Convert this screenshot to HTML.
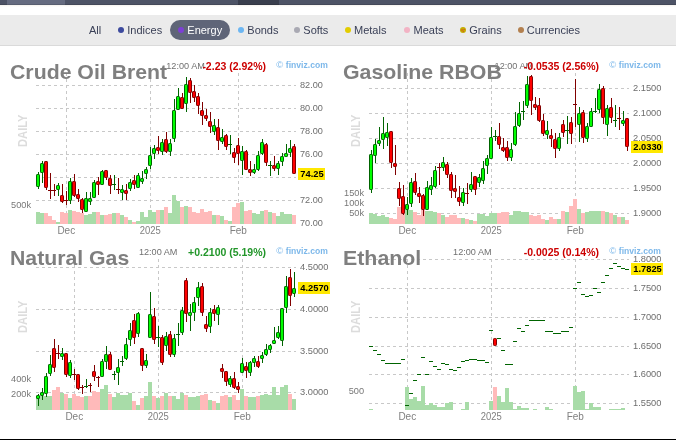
<!DOCTYPE html>
<html><head><meta charset="utf-8"><title>Futures - Energy</title>
<style>
html,body{margin:0;padding:0;background:#fff;}
body{width:676px;height:440px;overflow:hidden;position:relative;font-family:'Liberation Sans',Arial,sans-serif;}
#top{position:absolute;left:0;top:0;width:676px;height:5px;background:#4d5366;}
#top .a{position:absolute;left:7px;top:0;width:58px;height:5px;background:#656b80;}
#top .b{position:absolute;left:238px;top:0;width:41px;height:5px;background:#393e4d;}
#top .s{position:absolute;left:0;top:4px;width:676px;height:1px;background:rgba(0,0,0,0.12);}
#shadow{position:absolute;left:0;top:5px;width:676px;height:2px;background:linear-gradient(#f4f2ee,#fff);}
#tabs{position:absolute;left:0;top:15px;width:676px;height:30px;background:#ebebeb;border-bottom:1px solid #dadada;}
#pill{position:absolute;left:170px;top:5px;width:60px;height:20px;border-radius:10px;background:#5f6578;}
.t{position:absolute;top:8px;font-size:11px;line-height:14px;white-space:nowrap;}
.d{position:absolute;top:12px;width:6px;height:6px;border-radius:50%;}
#bot{position:absolute;left:0;top:439px;width:676px;height:1px;background:#000;}
</style></head><body>
<div id="top"><div class="a"></div><div class="b"></div><div class="s"></div></div>
<div id="shadow"></div>
<div id="tabs"><div id="pill"></div>
<span class="t" style="left:89.0px;color:#3a4057">All</span><span class="t" style="left:127.3px;color:#3a4057">Indices</span><span class="d" style="left:118px;background:#3d4a9e"></span><span class="t" style="left:187.3px;color:#fff">Energy</span><span class="d" style="left:178px;background:#7d3fd6"></span><span class="t" style="left:247.3px;color:#3a4057">Bonds</span><span class="d" style="left:238px;background:#6cb6f2"></span><span class="t" style="left:303.3px;color:#3a4057">Softs</span><span class="d" style="left:294px;background:#a9a9b3"></span><span class="t" style="left:354.0px;color:#3a4057">Metals</span><span class="d" style="left:344.7px;background:#e2cc00"></span><span class="t" style="left:413.5px;color:#3a4057">Meats</span><span class="d" style="left:404.2px;background:#f2b3c4"></span><span class="t" style="left:469.3px;color:#3a4057">Grains</span><span class="d" style="left:460px;background:radial-gradient(circle at 2px 3px,rgba(220,60,40,.7) 0.5px,transparent 1px),radial-gradient(circle at 4.2px 2.4px,rgba(220,60,40,.6) 0.5px,transparent 1px),radial-gradient(circle at 3.4px 4.4px,rgba(220,60,40,.7) 0.5px,transparent 1px),#c4ac00"></span><span class="t" style="left:526.8px;color:#3a4057">Currencies</span><span class="d" style="left:517.5px;background:#b3804f"></span>
</div>
<svg width="676" height="440" style="position:absolute;left:0;top:0" font-family="'Liberation Sans', Arial, sans-serif" shape-rendering="crispEdges">
<line x1="36" y1="85.5" x2="296" y2="85.5" stroke="#c8c8c8" stroke-dasharray="3 3"/>
<line x1="36" y1="108.5" x2="296" y2="108.5" stroke="#c8c8c8" stroke-dasharray="3 3"/>
<line x1="36" y1="131.5" x2="296" y2="131.5" stroke="#c8c8c8" stroke-dasharray="3 3"/>
<line x1="36" y1="154.5" x2="296" y2="154.5" stroke="#c8c8c8" stroke-dasharray="3 3"/>
<line x1="36" y1="177.5" x2="296" y2="177.5" stroke="#c8c8c8" stroke-dasharray="3 3"/>
<line x1="36" y1="200.5" x2="296" y2="200.5" stroke="#c8c8c8" stroke-dasharray="3 3"/>
<line x1="36" y1="223.5" x2="296" y2="223.5" stroke="#c8c8c8" stroke-dasharray="3 3"/>
<line x1="66.5" y1="73" x2="66.5" y2="224" stroke="#c8c8c8" stroke-dasharray="3 3"/>
<line x1="150.5" y1="73" x2="150.5" y2="224" stroke="#c8c8c8" stroke-dasharray="3 3"/>
<line x1="238.5" y1="73" x2="238.5" y2="224" stroke="#c8c8c8" stroke-dasharray="3 3"/>
<rect x="36" y="212" width="4" height="12" fill="#a8dca8"/>
<rect x="40" y="213" width="4" height="11" fill="#a8dca8"/>
<rect x="44" y="213" width="4" height="11" fill="#ffbaba"/>
<rect x="48" y="216" width="4" height="8" fill="#ffbaba"/>
<rect x="52" y="220" width="4" height="4" fill="#ffbaba"/>
<rect x="56" y="222" width="4" height="2" fill="#a8dca8"/>
<rect x="60" y="212" width="4" height="12" fill="#ffbaba"/>
<rect x="64" y="213" width="4" height="11" fill="#ffbaba"/>
<rect x="68" y="210" width="4" height="14" fill="#a8dca8"/>
<rect x="72" y="211" width="4" height="13" fill="#ffbaba"/>
<rect x="76" y="212" width="4" height="12" fill="#ffbaba"/>
<rect x="80" y="213" width="4" height="11" fill="#ffbaba"/>
<rect x="84" y="215" width="4" height="9" fill="#a8dca8"/>
<rect x="88" y="214" width="4" height="10" fill="#a8dca8"/>
<rect x="92" y="212" width="4" height="12" fill="#a8dca8"/>
<rect x="96" y="212" width="4" height="12" fill="#ffbaba"/>
<rect x="100" y="215" width="4" height="9" fill="#a8dca8"/>
<rect x="104" y="215" width="4" height="9" fill="#ffbaba"/>
<rect x="108" y="214" width="4" height="10" fill="#ffbaba"/>
<rect x="112" y="213" width="4" height="11" fill="#a8dca8"/>
<rect x="116" y="213" width="4" height="11" fill="#ffbaba"/>
<rect x="120" y="215" width="4" height="9" fill="#a8dca8"/>
<rect x="124" y="217" width="4" height="7" fill="#ffbaba"/>
<rect x="128" y="220" width="4" height="4" fill="#a8dca8"/>
<rect x="132" y="222" width="4" height="2" fill="#ffbaba"/>
<rect x="136" y="221" width="4" height="3" fill="#a8dca8"/>
<rect x="140" y="212" width="4" height="12" fill="#a8dca8"/>
<rect x="144" y="217" width="4" height="7" fill="#a8dca8"/>
<rect x="148" y="210" width="4" height="14" fill="#a8dca8"/>
<rect x="152" y="212" width="4" height="12" fill="#a8dca8"/>
<rect x="156" y="210" width="4" height="14" fill="#ffbaba"/>
<rect x="160" y="210" width="4" height="14" fill="#a8dca8"/>
<rect x="164" y="207" width="4" height="17" fill="#ffbaba"/>
<rect x="168" y="213" width="4" height="11" fill="#a8dca8"/>
<rect x="172" y="195" width="4" height="29" fill="#a8dca8"/>
<rect x="176" y="201" width="4" height="23" fill="#a8dca8"/>
<rect x="180" y="207" width="4" height="17" fill="#ffbaba"/>
<rect x="184" y="206" width="4" height="18" fill="#a8dca8"/>
<rect x="188" y="207" width="4" height="17" fill="#ffbaba"/>
<rect x="192" y="212" width="4" height="12" fill="#ffbaba"/>
<rect x="196" y="213" width="4" height="11" fill="#ffbaba"/>
<rect x="200" y="209" width="4" height="15" fill="#ffbaba"/>
<rect x="204" y="212" width="4" height="12" fill="#ffbaba"/>
<rect x="208" y="211" width="4" height="13" fill="#ffbaba"/>
<rect x="212" y="215" width="4" height="9" fill="#a8dca8"/>
<rect x="216" y="215" width="4" height="9" fill="#ffbaba"/>
<rect x="220" y="216" width="4" height="8" fill="#a8dca8"/>
<rect x="224" y="220" width="4" height="4" fill="#ffbaba"/>
<rect x="228" y="221" width="4" height="3" fill="#a8dca8"/>
<rect x="232" y="207" width="4" height="17" fill="#ffbaba"/>
<rect x="236" y="203" width="4" height="21" fill="#ffbaba"/>
<rect x="240" y="202" width="4" height="22" fill="#a8dca8"/>
<rect x="244" y="211" width="4" height="13" fill="#ffbaba"/>
<rect x="248" y="210" width="4" height="14" fill="#ffbaba"/>
<rect x="252" y="213" width="4" height="11" fill="#a8dca8"/>
<rect x="256" y="214" width="4" height="10" fill="#a8dca8"/>
<rect x="260" y="211" width="4" height="13" fill="#a8dca8"/>
<rect x="264" y="210" width="4" height="14" fill="#ffbaba"/>
<rect x="268" y="212" width="4" height="12" fill="#a8dca8"/>
<rect x="272" y="213" width="4" height="11" fill="#ffbaba"/>
<rect x="276" y="216" width="4" height="8" fill="#a8dca8"/>
<rect x="280" y="212" width="4" height="12" fill="#a8dca8"/>
<rect x="284" y="214" width="4" height="10" fill="#a8dca8"/>
<rect x="288" y="214" width="4" height="10" fill="#a8dca8"/>
<rect x="292" y="215" width="4" height="9" fill="#ffbaba"/>
<text transform="translate(27,147) rotate(-90)" font-size="12.5" font-weight="bold" fill="#dcdcdc" textLength="32.5" lengthAdjust="spacingAndGlyphs">DAILY</text>
<text x="166.3" y="69" font-size="9.5" font-weight="normal" fill="#707070" text-anchor="start" textLength="38.5" lengthAdjust="spacingAndGlyphs">12:00 AM</text>
<text x="10" y="79" font-size="21" font-weight="bold" fill="#7f7f7f" text-anchor="start" textLength="157.2" lengthAdjust="spacingAndGlyphs">Crude Oil Brent</text>
<text x="266" y="69.5" font-size="10.5" font-weight="bold" fill="#cc0000" text-anchor="end">-2.23 (2.92%)</text>
<text x="276.3" y="67.5" font-size="9.5" font-weight="normal" fill="#7db8ea" text-anchor="start">&#169;</text>
<text x="285.8" y="67.5" font-size="9" font-weight="bold" fill="#7db8ea" text-anchor="start" textLength="42" lengthAdjust="spacingAndGlyphs">finviz.com</text>
<text x="300" y="87.8" font-size="9.6" font-weight="normal" fill="#6e6e6e" text-anchor="start" textLength="22.9" lengthAdjust="spacingAndGlyphs">82.00</text>
<text x="300" y="110.8" font-size="9.6" font-weight="normal" fill="#6e6e6e" text-anchor="start" textLength="22.9" lengthAdjust="spacingAndGlyphs">80.00</text>
<text x="300" y="133.8" font-size="9.6" font-weight="normal" fill="#6e6e6e" text-anchor="start" textLength="22.9" lengthAdjust="spacingAndGlyphs">78.00</text>
<text x="300" y="156.8" font-size="9.6" font-weight="normal" fill="#6e6e6e" text-anchor="start" textLength="22.9" lengthAdjust="spacingAndGlyphs">76.00</text>
<text x="300" y="202.8" font-size="9.6" font-weight="normal" fill="#6e6e6e" text-anchor="start" textLength="22.9" lengthAdjust="spacingAndGlyphs">72.00</text>
<text x="300" y="225.8" font-size="9.6" font-weight="normal" fill="#6e6e6e" text-anchor="start" textLength="22.9" lengthAdjust="spacingAndGlyphs">70.00</text>
<text x="66.3" y="233.6" font-size="10" font-weight="normal" fill="#808080" text-anchor="middle">Dec</text>
<text x="150.3" y="233.6" font-size="10" font-weight="normal" fill="#808080" text-anchor="middle" textLength="21" lengthAdjust="spacingAndGlyphs">2025</text>
<text x="238.3" y="233.6" font-size="10" font-weight="normal" fill="#808080" text-anchor="middle">Feb</text>
<text x="31" y="207.8" font-size="9.2" font-weight="normal" fill="#777777" text-anchor="end">500k</text>
<line x1="38.5" y1="172" x2="38.5" y2="189" stroke="#006400"/>
<rect x="36.5" y="174.5" width="3" height="12" rx="0.6" fill="#00ff00" stroke="#006400" shape-rendering="geometricPrecision"/>
<line x1="42.5" y1="161" x2="42.5" y2="183" stroke="#006400"/>
<rect x="40.5" y="163.5" width="3" height="9" rx="0.6" fill="#00ff00" stroke="#006400" shape-rendering="geometricPrecision"/>
<line x1="46.5" y1="161" x2="46.5" y2="190" stroke="#800000"/>
<rect x="44.5" y="161.5" width="3" height="26" rx="0.6" fill="#ff0000" stroke="#800000" shape-rendering="geometricPrecision"/>
<line x1="50.5" y1="173" x2="50.5" y2="199" stroke="#800000"/>
<line x1="48" y1="190.5" x2="52" y2="190.5" stroke="#800000"/>
<line x1="54.5" y1="184" x2="54.5" y2="196" stroke="#800000"/>
<line x1="52" y1="190.5" x2="56" y2="190.5" stroke="#800000"/>
<line x1="58.5" y1="183" x2="58.5" y2="196" stroke="#006400"/>
<rect x="56.5" y="185.5" width="3" height="4" rx="0.6" fill="#00ff00" stroke="#006400" shape-rendering="geometricPrecision"/>
<line x1="62.5" y1="184" x2="62.5" y2="203" stroke="#800000"/>
<rect x="60.5" y="195.5" width="3" height="6" rx="0.6" fill="#ff0000" stroke="#800000" shape-rendering="geometricPrecision"/>
<line x1="66.5" y1="191" x2="66.5" y2="205" stroke="#800000"/>
<line x1="64" y1="200.5" x2="68" y2="200.5" stroke="#800000"/>
<line x1="70.5" y1="178" x2="70.5" y2="204" stroke="#006400"/>
<rect x="68.5" y="181.5" width="3" height="19" rx="0.6" fill="#00ff00" stroke="#006400" shape-rendering="geometricPrecision"/>
<line x1="74.5" y1="174" x2="74.5" y2="197" stroke="#800000"/>
<rect x="72.5" y="181.5" width="3" height="14" rx="0.6" fill="#ff0000" stroke="#800000" shape-rendering="geometricPrecision"/>
<line x1="78.5" y1="189" x2="78.5" y2="202" stroke="#800000"/>
<rect x="76.5" y="194.5" width="3" height="4" rx="0.6" fill="#ff0000" stroke="#800000" shape-rendering="geometricPrecision"/>
<line x1="82.5" y1="198" x2="82.5" y2="213" stroke="#800000"/>
<rect x="80.5" y="199.5" width="3" height="10" rx="0.6" fill="#ff0000" stroke="#800000" shape-rendering="geometricPrecision"/>
<line x1="86.5" y1="192" x2="86.5" y2="212" stroke="#006400"/>
<rect x="84.5" y="198.5" width="3" height="13" rx="0.6" fill="#00ff00" stroke="#006400" shape-rendering="geometricPrecision"/>
<line x1="90.5" y1="192" x2="90.5" y2="205" stroke="#006400"/>
<rect x="88.5" y="198.5" width="3" height="3" rx="0.6" fill="#00ff00" stroke="#006400" shape-rendering="geometricPrecision"/>
<line x1="94.5" y1="180" x2="94.5" y2="198" stroke="#006400"/>
<rect x="92.5" y="182.5" width="3" height="15" rx="0.6" fill="#00ff00" stroke="#006400" shape-rendering="geometricPrecision"/>
<line x1="98.5" y1="177" x2="98.5" y2="195" stroke="#800000"/>
<rect x="96.5" y="181.5" width="3" height="3" rx="0.6" fill="#ff0000" stroke="#800000" shape-rendering="geometricPrecision"/>
<line x1="102.5" y1="170" x2="102.5" y2="185" stroke="#006400"/>
<rect x="100.5" y="171.5" width="3" height="13" rx="0.6" fill="#00ff00" stroke="#006400" shape-rendering="geometricPrecision"/>
<line x1="106.5" y1="170" x2="106.5" y2="180" stroke="#800000"/>
<rect x="104.5" y="170.5" width="3" height="7" rx="0.6" fill="#ff0000" stroke="#800000" shape-rendering="geometricPrecision"/>
<line x1="110.5" y1="175" x2="110.5" y2="194" stroke="#800000"/>
<rect x="108.5" y="178.5" width="3" height="7" rx="0.6" fill="#ff0000" stroke="#800000" shape-rendering="geometricPrecision"/>
<line x1="114.5" y1="175" x2="114.5" y2="190" stroke="#006400"/>
<line x1="112" y1="184.5" x2="116" y2="184.5" stroke="#006400"/>
<line x1="118.5" y1="178" x2="118.5" y2="194" stroke="#800000"/>
<line x1="116" y1="189.5" x2="120" y2="189.5" stroke="#800000"/>
<line x1="122.5" y1="185" x2="122.5" y2="200" stroke="#006400"/>
<rect x="120.5" y="189.5" width="3" height="3" rx="0.6" fill="#00ff00" stroke="#006400" shape-rendering="geometricPrecision"/>
<line x1="126.5" y1="184" x2="126.5" y2="200" stroke="#800000"/>
<rect x="124.5" y="190.5" width="3" height="3" rx="0.6" fill="#ff0000" stroke="#800000" shape-rendering="geometricPrecision"/>
<line x1="130.5" y1="179" x2="130.5" y2="191" stroke="#006400"/>
<rect x="128.5" y="182.5" width="3" height="6" rx="0.6" fill="#00ff00" stroke="#006400" shape-rendering="geometricPrecision"/>
<line x1="134.5" y1="175" x2="134.5" y2="189" stroke="#800000"/>
<rect x="132.5" y="180.5" width="3" height="4" rx="0.6" fill="#ff0000" stroke="#800000" shape-rendering="geometricPrecision"/>
<line x1="138.5" y1="173" x2="138.5" y2="188" stroke="#006400"/>
<rect x="136.5" y="175.5" width="3" height="12" rx="0.6" fill="#00ff00" stroke="#006400" shape-rendering="geometricPrecision"/>
<line x1="142.5" y1="171" x2="142.5" y2="184" stroke="#006400"/>
<rect x="140.5" y="178.5" width="3" height="3" rx="0.6" fill="#00ff00" stroke="#006400" shape-rendering="geometricPrecision"/>
<line x1="146.5" y1="167" x2="146.5" y2="179" stroke="#006400"/>
<rect x="144.5" y="169.5" width="3" height="4" rx="0.6" fill="#00ff00" stroke="#006400" shape-rendering="geometricPrecision"/>
<line x1="150.5" y1="147" x2="150.5" y2="169" stroke="#006400"/>
<rect x="148.5" y="155.5" width="3" height="10" rx="0.6" fill="#00ff00" stroke="#006400" shape-rendering="geometricPrecision"/>
<line x1="154.5" y1="145" x2="154.5" y2="159" stroke="#006400"/>
<rect x="152.5" y="148.5" width="3" height="5" rx="0.6" fill="#00ff00" stroke="#006400" shape-rendering="geometricPrecision"/>
<line x1="158.5" y1="136" x2="158.5" y2="154" stroke="#800000"/>
<rect x="156.5" y="147.5" width="3" height="3" rx="0.6" fill="#ff0000" stroke="#800000" shape-rendering="geometricPrecision"/>
<line x1="162.5" y1="139" x2="162.5" y2="155" stroke="#006400"/>
<rect x="160.5" y="142.5" width="3" height="9" rx="0.6" fill="#00ff00" stroke="#006400" shape-rendering="geometricPrecision"/>
<line x1="166.5" y1="132" x2="166.5" y2="153" stroke="#800000"/>
<rect x="164.5" y="139.5" width="3" height="12" rx="0.6" fill="#ff0000" stroke="#800000" shape-rendering="geometricPrecision"/>
<line x1="170.5" y1="139" x2="170.5" y2="156" stroke="#006400"/>
<rect x="168.5" y="143.5" width="3" height="8" rx="0.6" fill="#00ff00" stroke="#006400" shape-rendering="geometricPrecision"/>
<line x1="174.5" y1="99" x2="174.5" y2="142" stroke="#006400"/>
<rect x="172.5" y="110.5" width="3" height="28" rx="0.6" fill="#00ff00" stroke="#006400" shape-rendering="geometricPrecision"/>
<line x1="178.5" y1="88" x2="178.5" y2="110" stroke="#006400"/>
<rect x="176.5" y="96.5" width="3" height="13" rx="0.6" fill="#00ff00" stroke="#006400" shape-rendering="geometricPrecision"/>
<line x1="182.5" y1="93" x2="182.5" y2="109" stroke="#800000"/>
<rect x="180.5" y="97.5" width="3" height="11" rx="0.6" fill="#ff0000" stroke="#800000" shape-rendering="geometricPrecision"/>
<line x1="186.5" y1="77" x2="186.5" y2="112" stroke="#006400"/>
<rect x="184.5" y="84.5" width="3" height="19" rx="0.6" fill="#00ff00" stroke="#006400" shape-rendering="geometricPrecision"/>
<line x1="190.5" y1="78" x2="190.5" y2="103" stroke="#800000"/>
<rect x="188.5" y="80.5" width="3" height="12" rx="0.6" fill="#ff0000" stroke="#800000" shape-rendering="geometricPrecision"/>
<line x1="194.5" y1="85" x2="194.5" y2="102" stroke="#800000"/>
<rect x="192.5" y="91.5" width="3" height="6" rx="0.6" fill="#ff0000" stroke="#800000" shape-rendering="geometricPrecision"/>
<line x1="198.5" y1="93" x2="198.5" y2="114" stroke="#800000"/>
<rect x="196.5" y="96.5" width="3" height="9" rx="0.6" fill="#ff0000" stroke="#800000" shape-rendering="geometricPrecision"/>
<line x1="202.5" y1="102" x2="202.5" y2="125" stroke="#800000"/>
<rect x="200.5" y="110.5" width="3" height="5" rx="0.6" fill="#ff0000" stroke="#800000" shape-rendering="geometricPrecision"/>
<line x1="206.5" y1="109" x2="206.5" y2="121" stroke="#800000"/>
<rect x="204.5" y="115.5" width="3" height="3" rx="0.6" fill="#ff0000" stroke="#800000" shape-rendering="geometricPrecision"/>
<line x1="210.5" y1="112" x2="210.5" y2="133" stroke="#800000"/>
<rect x="208.5" y="121.5" width="3" height="5" rx="0.6" fill="#ff0000" stroke="#800000" shape-rendering="geometricPrecision"/>
<line x1="214.5" y1="119" x2="214.5" y2="135" stroke="#006400"/>
<rect x="212.5" y="125.5" width="3" height="6" rx="0.6" fill="#00ff00" stroke="#006400" shape-rendering="geometricPrecision"/>
<line x1="218.5" y1="119" x2="218.5" y2="150" stroke="#800000"/>
<rect x="216.5" y="127.5" width="3" height="13" rx="0.6" fill="#ff0000" stroke="#800000" shape-rendering="geometricPrecision"/>
<line x1="222.5" y1="129" x2="222.5" y2="144" stroke="#006400"/>
<rect x="220.5" y="137.5" width="3" height="4" rx="0.6" fill="#00ff00" stroke="#006400" shape-rendering="geometricPrecision"/>
<line x1="226.5" y1="134" x2="226.5" y2="150" stroke="#800000"/>
<rect x="224.5" y="135.5" width="3" height="11" rx="0.6" fill="#ff0000" stroke="#800000" shape-rendering="geometricPrecision"/>
<line x1="230.5" y1="135" x2="230.5" y2="154" stroke="#006400"/>
<line x1="228" y1="144.5" x2="232" y2="144.5" stroke="#006400"/>
<line x1="234.5" y1="148" x2="234.5" y2="163" stroke="#800000"/>
<rect x="232.5" y="152.5" width="3" height="5" rx="0.6" fill="#ff0000" stroke="#800000" shape-rendering="geometricPrecision"/>
<line x1="238.5" y1="138" x2="238.5" y2="165" stroke="#800000"/>
<rect x="236.5" y="145.5" width="3" height="8" rx="0.6" fill="#ff0000" stroke="#800000" shape-rendering="geometricPrecision"/>
<line x1="242.5" y1="146" x2="242.5" y2="175" stroke="#006400"/>
<rect x="240.5" y="151.5" width="3" height="9" rx="0.6" fill="#00ff00" stroke="#006400" shape-rendering="geometricPrecision"/>
<line x1="246.5" y1="150" x2="246.5" y2="170" stroke="#800000"/>
<rect x="244.5" y="151.5" width="3" height="18" rx="0.6" fill="#ff0000" stroke="#800000" shape-rendering="geometricPrecision"/>
<line x1="250.5" y1="161" x2="250.5" y2="176" stroke="#800000"/>
<rect x="248.5" y="169.5" width="3" height="3" rx="0.6" fill="#ff0000" stroke="#800000" shape-rendering="geometricPrecision"/>
<line x1="254.5" y1="164" x2="254.5" y2="174" stroke="#006400"/>
<rect x="252.5" y="169.5" width="3" height="3" rx="0.6" fill="#00ff00" stroke="#006400" shape-rendering="geometricPrecision"/>
<line x1="258.5" y1="151" x2="258.5" y2="171" stroke="#006400"/>
<rect x="256.5" y="155.5" width="3" height="14" rx="0.6" fill="#00ff00" stroke="#006400" shape-rendering="geometricPrecision"/>
<line x1="262.5" y1="139" x2="262.5" y2="155" stroke="#006400"/>
<rect x="260.5" y="142.5" width="3" height="11" rx="0.6" fill="#00ff00" stroke="#006400" shape-rendering="geometricPrecision"/>
<line x1="266.5" y1="143" x2="266.5" y2="166" stroke="#800000"/>
<rect x="264.5" y="144.5" width="3" height="18" rx="0.6" fill="#ff0000" stroke="#800000" shape-rendering="geometricPrecision"/>
<line x1="270.5" y1="161" x2="270.5" y2="176" stroke="#006400"/>
<line x1="268" y1="165.5" x2="272" y2="165.5" stroke="#006400"/>
<line x1="274.5" y1="156" x2="274.5" y2="171" stroke="#800000"/>
<rect x="272.5" y="165.5" width="3" height="3" rx="0.6" fill="#ff0000" stroke="#800000" shape-rendering="geometricPrecision"/>
<line x1="278.5" y1="161" x2="278.5" y2="175" stroke="#006400"/>
<rect x="276.5" y="163.5" width="3" height="5" rx="0.6" fill="#00ff00" stroke="#006400" shape-rendering="geometricPrecision"/>
<line x1="282.5" y1="153" x2="282.5" y2="166" stroke="#006400"/>
<rect x="280.5" y="156.5" width="3" height="5" rx="0.6" fill="#00ff00" stroke="#006400" shape-rendering="geometricPrecision"/>
<line x1="286.5" y1="144" x2="286.5" y2="156" stroke="#006400"/>
<rect x="284.5" y="153.5" width="3" height="3" rx="0.6" fill="#00ff00" stroke="#006400" shape-rendering="geometricPrecision"/>
<line x1="290.5" y1="140" x2="290.5" y2="157" stroke="#006400"/>
<rect x="288.5" y="148.5" width="3" height="4" rx="0.6" fill="#00ff00" stroke="#006400" shape-rendering="geometricPrecision"/>
<line x1="294.5" y1="144" x2="294.5" y2="174" stroke="#800000"/>
<rect x="292.5" y="146.5" width="3" height="27" rx="0.6" fill="#ff0000" stroke="#800000" shape-rendering="geometricPrecision"/>
<rect x="298" y="168" width="27" height="12" fill="#ffe800"/>
<text x="300.3" y="177.4" font-size="9.3" font-weight="bold" fill="#000" text-anchor="start">74.25</text>
<line x1="369" y1="88.5" x2="629" y2="88.5" stroke="#c8c8c8" stroke-dasharray="3 3"/>
<line x1="369" y1="113.5" x2="629" y2="113.5" stroke="#c8c8c8" stroke-dasharray="3 3"/>
<line x1="369" y1="138.5" x2="629" y2="138.5" stroke="#c8c8c8" stroke-dasharray="3 3"/>
<line x1="369" y1="163.5" x2="629" y2="163.5" stroke="#c8c8c8" stroke-dasharray="3 3"/>
<line x1="369" y1="188.5" x2="629" y2="188.5" stroke="#c8c8c8" stroke-dasharray="3 3"/>
<line x1="369" y1="213.5" x2="629" y2="213.5" stroke="#c8c8c8" stroke-dasharray="3 3"/>
<line x1="407.5" y1="73" x2="407.5" y2="224" stroke="#c8c8c8" stroke-dasharray="3 3"/>
<line x1="491.5" y1="73" x2="491.5" y2="224" stroke="#c8c8c8" stroke-dasharray="3 3"/>
<line x1="575.5" y1="73" x2="575.5" y2="224" stroke="#c8c8c8" stroke-dasharray="3 3"/>
<rect x="369" y="213" width="4" height="11" fill="#a8dca8"/>
<rect x="373" y="214" width="4" height="10" fill="#a8dca8"/>
<rect x="377" y="216" width="4" height="8" fill="#a8dca8"/>
<rect x="381" y="215" width="4" height="9" fill="#a8dca8"/>
<rect x="385" y="217" width="4" height="7" fill="#a8dca8"/>
<rect x="389" y="218" width="4" height="6" fill="#ffbaba"/>
<rect x="393" y="219" width="4" height="5" fill="#ffbaba"/>
<rect x="397" y="207" width="4" height="17" fill="#ffbaba"/>
<rect x="401" y="211" width="4" height="13" fill="#ffbaba"/>
<rect x="405" y="210" width="4" height="14" fill="#a8dca8"/>
<rect x="409" y="210" width="4" height="14" fill="#a8dca8"/>
<rect x="413" y="212" width="4" height="12" fill="#ffbaba"/>
<rect x="417" y="215" width="4" height="9" fill="#ffbaba"/>
<rect x="421" y="210" width="4" height="14" fill="#ffbaba"/>
<rect x="425" y="211" width="4" height="13" fill="#a8dca8"/>
<rect x="429" y="211" width="4" height="13" fill="#a8dca8"/>
<rect x="433" y="212" width="4" height="12" fill="#a8dca8"/>
<rect x="437" y="213" width="4" height="11" fill="#ffbaba"/>
<rect x="441" y="215" width="4" height="9" fill="#a8dca8"/>
<rect x="445" y="217" width="4" height="7" fill="#ffbaba"/>
<rect x="449" y="215" width="4" height="9" fill="#ffbaba"/>
<rect x="453" y="215" width="4" height="9" fill="#ffbaba"/>
<rect x="457" y="218" width="4" height="6" fill="#ffbaba"/>
<rect x="461" y="218" width="4" height="6" fill="#a8dca8"/>
<rect x="465" y="219" width="4" height="5" fill="#ffbaba"/>
<rect x="469" y="220" width="4" height="4" fill="#a8dca8"/>
<rect x="473" y="221" width="4" height="3" fill="#ffbaba"/>
<rect x="477" y="214" width="4" height="10" fill="#a8dca8"/>
<rect x="481" y="214" width="4" height="10" fill="#a8dca8"/>
<rect x="485" y="216" width="4" height="8" fill="#a8dca8"/>
<rect x="489" y="213" width="4" height="11" fill="#a8dca8"/>
<rect x="493" y="213" width="4" height="11" fill="#a8dca8"/>
<rect x="497" y="213" width="4" height="11" fill="#ffbaba"/>
<rect x="501" y="212" width="4" height="12" fill="#ffbaba"/>
<rect x="505" y="212" width="4" height="12" fill="#ffbaba"/>
<rect x="509" y="215" width="4" height="9" fill="#a8dca8"/>
<rect x="513" y="211" width="4" height="13" fill="#a8dca8"/>
<rect x="517" y="211" width="4" height="13" fill="#a8dca8"/>
<rect x="521" y="212" width="4" height="12" fill="#a8dca8"/>
<rect x="525" y="212" width="4" height="12" fill="#a8dca8"/>
<rect x="529" y="215" width="4" height="9" fill="#ffbaba"/>
<rect x="533" y="216" width="4" height="8" fill="#ffbaba"/>
<rect x="537" y="215" width="4" height="9" fill="#ffbaba"/>
<rect x="541" y="219" width="4" height="5" fill="#ffbaba"/>
<rect x="545" y="220" width="4" height="4" fill="#a8dca8"/>
<rect x="549" y="217" width="4" height="7" fill="#ffbaba"/>
<rect x="553" y="219" width="4" height="5" fill="#ffbaba"/>
<rect x="557" y="219" width="4" height="5" fill="#a8dca8"/>
<rect x="561" y="211" width="4" height="13" fill="#ffbaba"/>
<rect x="565" y="212" width="4" height="12" fill="#a8dca8"/>
<rect x="569" y="206" width="4" height="18" fill="#ffbaba"/>
<rect x="573" y="199" width="4" height="25" fill="#ffbaba"/>
<rect x="577" y="209" width="4" height="15" fill="#a8dca8"/>
<rect x="581" y="213" width="4" height="11" fill="#ffbaba"/>
<rect x="585" y="212" width="4" height="12" fill="#a8dca8"/>
<rect x="589" y="211" width="4" height="13" fill="#a8dca8"/>
<rect x="593" y="211" width="4" height="13" fill="#a8dca8"/>
<rect x="597" y="211" width="4" height="13" fill="#a8dca8"/>
<rect x="601" y="211" width="4" height="13" fill="#ffbaba"/>
<rect x="605" y="212" width="4" height="12" fill="#a8dca8"/>
<rect x="609" y="213" width="4" height="11" fill="#ffbaba"/>
<rect x="613" y="215" width="4" height="9" fill="#a8dca8"/>
<rect x="617" y="217" width="4" height="7" fill="#ffbaba"/>
<rect x="621" y="217" width="4" height="7" fill="#a8dca8"/>
<rect x="625" y="220" width="4" height="4" fill="#ffbaba"/>
<text transform="translate(360,147) rotate(-90)" font-size="12.5" font-weight="bold" fill="#dcdcdc" textLength="32.5" lengthAdjust="spacingAndGlyphs">DAILY</text>
<text x="494.6" y="69" font-size="9.5" font-weight="normal" fill="#707070" text-anchor="start" textLength="38.5" lengthAdjust="spacingAndGlyphs">12:00 AM</text>
<text x="343" y="79" font-size="21" font-weight="bold" fill="#7f7f7f" text-anchor="start" textLength="158.8" lengthAdjust="spacingAndGlyphs">Gasoline RBOB</text>
<text x="599" y="69.5" font-size="10.5" font-weight="bold" fill="#cc0000" text-anchor="end">-0.0535 (2.56%)</text>
<text x="609.3" y="67.5" font-size="9.5" font-weight="normal" fill="#7db8ea" text-anchor="start">&#169;</text>
<text x="618.8" y="67.5" font-size="9" font-weight="bold" fill="#7db8ea" text-anchor="start" textLength="42" lengthAdjust="spacingAndGlyphs">finviz.com</text>
<text x="633" y="90.8" font-size="9.6" font-weight="normal" fill="#6e6e6e" text-anchor="start" textLength="28.4" lengthAdjust="spacingAndGlyphs">2.1500</text>
<text x="633" y="115.8" font-size="9.6" font-weight="normal" fill="#6e6e6e" text-anchor="start" textLength="28.4" lengthAdjust="spacingAndGlyphs">2.1000</text>
<text x="633" y="140.8" font-size="9.6" font-weight="normal" fill="#6e6e6e" text-anchor="start" textLength="28.4" lengthAdjust="spacingAndGlyphs">2.0500</text>
<text x="633" y="165.8" font-size="9.6" font-weight="normal" fill="#6e6e6e" text-anchor="start" textLength="28.4" lengthAdjust="spacingAndGlyphs">2.0000</text>
<text x="633" y="190.8" font-size="9.6" font-weight="normal" fill="#6e6e6e" text-anchor="start" textLength="28.4" lengthAdjust="spacingAndGlyphs">1.9500</text>
<text x="633" y="215.8" font-size="9.6" font-weight="normal" fill="#6e6e6e" text-anchor="start" textLength="28.4" lengthAdjust="spacingAndGlyphs">1.9000</text>
<text x="407.3" y="233.6" font-size="10" font-weight="normal" fill="#808080" text-anchor="middle">Dec</text>
<text x="491.3" y="233.6" font-size="10" font-weight="normal" fill="#808080" text-anchor="middle" textLength="21" lengthAdjust="spacingAndGlyphs">2025</text>
<text x="575.3" y="233.6" font-size="10" font-weight="normal" fill="#808080" text-anchor="middle">Feb</text>
<text x="364" y="196.3" font-size="9.2" font-weight="normal" fill="#777777" text-anchor="end">150k</text>
<text x="364" y="205.8" font-size="9.2" font-weight="normal" fill="#777777" text-anchor="end">100k</text>
<text x="364" y="216.0" font-size="9.2" font-weight="normal" fill="#777777" text-anchor="end">50k</text>
<line x1="371.5" y1="150" x2="371.5" y2="193" stroke="#006400"/>
<rect x="369.5" y="154.5" width="3" height="35" rx="0.6" fill="#00ff00" stroke="#006400" shape-rendering="geometricPrecision"/>
<line x1="375.5" y1="139" x2="375.5" y2="163" stroke="#006400"/>
<rect x="373.5" y="144.5" width="3" height="11" rx="0.6" fill="#00ff00" stroke="#006400" shape-rendering="geometricPrecision"/>
<line x1="379.5" y1="127" x2="379.5" y2="146" stroke="#006400"/>
<rect x="377.5" y="140.5" width="3" height="3" rx="0.6" fill="#00ff00" stroke="#006400" shape-rendering="geometricPrecision"/>
<line x1="383.5" y1="117" x2="383.5" y2="149" stroke="#006400"/>
<rect x="381.5" y="133.5" width="3" height="6" rx="0.6" fill="#00ff00" stroke="#006400" shape-rendering="geometricPrecision"/>
<line x1="387.5" y1="123" x2="387.5" y2="146" stroke="#006400"/>
<rect x="385.5" y="132.5" width="3" height="5" rx="0.6" fill="#00ff00" stroke="#006400" shape-rendering="geometricPrecision"/>
<line x1="391.5" y1="131" x2="391.5" y2="168" stroke="#800000"/>
<rect x="389.5" y="131.5" width="3" height="31" rx="0.6" fill="#ff0000" stroke="#800000" shape-rendering="geometricPrecision"/>
<line x1="395.5" y1="145" x2="395.5" y2="175" stroke="#800000"/>
<rect x="393.5" y="163.5" width="3" height="3" rx="0.6" fill="#ff0000" stroke="#800000" shape-rendering="geometricPrecision"/>
<line x1="399.5" y1="182" x2="399.5" y2="206" stroke="#800000"/>
<rect x="397.5" y="188.5" width="3" height="10" rx="0.6" fill="#ff0000" stroke="#800000" shape-rendering="geometricPrecision"/>
<line x1="403.5" y1="185" x2="403.5" y2="215" stroke="#800000"/>
<rect x="401.5" y="196.5" width="3" height="17" rx="0.6" fill="#ff0000" stroke="#800000" shape-rendering="geometricPrecision"/>
<line x1="407.5" y1="197" x2="407.5" y2="215" stroke="#006400"/>
<rect x="405.5" y="204.5" width="3" height="5" rx="0.6" fill="#00ff00" stroke="#006400" shape-rendering="geometricPrecision"/>
<line x1="411.5" y1="178" x2="411.5" y2="207" stroke="#006400"/>
<rect x="409.5" y="182.5" width="3" height="21" rx="0.6" fill="#00ff00" stroke="#006400" shape-rendering="geometricPrecision"/>
<line x1="415.5" y1="173" x2="415.5" y2="195" stroke="#800000"/>
<rect x="413.5" y="181.5" width="3" height="11" rx="0.6" fill="#ff0000" stroke="#800000" shape-rendering="geometricPrecision"/>
<line x1="419.5" y1="187" x2="419.5" y2="203" stroke="#800000"/>
<rect x="417.5" y="193.5" width="3" height="3" rx="0.6" fill="#ff0000" stroke="#800000" shape-rendering="geometricPrecision"/>
<line x1="423.5" y1="194" x2="423.5" y2="216" stroke="#800000"/>
<rect x="421.5" y="195.5" width="3" height="14" rx="0.6" fill="#ff0000" stroke="#800000" shape-rendering="geometricPrecision"/>
<line x1="427.5" y1="181" x2="427.5" y2="210" stroke="#006400"/>
<rect x="425.5" y="187.5" width="3" height="22" rx="0.6" fill="#00ff00" stroke="#006400" shape-rendering="geometricPrecision"/>
<line x1="431.5" y1="177" x2="431.5" y2="195" stroke="#006400"/>
<rect x="429.5" y="185.5" width="3" height="4" rx="0.6" fill="#00ff00" stroke="#006400" shape-rendering="geometricPrecision"/>
<line x1="435.5" y1="166" x2="435.5" y2="188" stroke="#006400"/>
<rect x="433.5" y="170.5" width="3" height="16" rx="0.6" fill="#00ff00" stroke="#006400" shape-rendering="geometricPrecision"/>
<line x1="439.5" y1="163" x2="439.5" y2="185" stroke="#800000"/>
<line x1="437" y1="167.5" x2="441" y2="167.5" stroke="#800000"/>
<line x1="443.5" y1="157" x2="443.5" y2="171" stroke="#006400"/>
<rect x="441.5" y="162.5" width="3" height="5" rx="0.6" fill="#00ff00" stroke="#006400" shape-rendering="geometricPrecision"/>
<line x1="447.5" y1="162" x2="447.5" y2="178" stroke="#800000"/>
<rect x="445.5" y="164.5" width="3" height="10" rx="0.6" fill="#ff0000" stroke="#800000" shape-rendering="geometricPrecision"/>
<line x1="451.5" y1="172" x2="451.5" y2="198" stroke="#800000"/>
<rect x="449.5" y="174.5" width="3" height="16" rx="0.6" fill="#ff0000" stroke="#800000" shape-rendering="geometricPrecision"/>
<line x1="455.5" y1="175" x2="455.5" y2="198" stroke="#800000"/>
<rect x="453.5" y="188.5" width="3" height="3" rx="0.6" fill="#ff0000" stroke="#800000" shape-rendering="geometricPrecision"/>
<line x1="459.5" y1="186" x2="459.5" y2="206" stroke="#800000"/>
<rect x="457.5" y="197.5" width="3" height="4" rx="0.6" fill="#ff0000" stroke="#800000" shape-rendering="geometricPrecision"/>
<line x1="463.5" y1="188" x2="463.5" y2="206" stroke="#006400"/>
<rect x="461.5" y="192.5" width="3" height="10" rx="0.6" fill="#00ff00" stroke="#006400" shape-rendering="geometricPrecision"/>
<line x1="467.5" y1="183" x2="467.5" y2="204" stroke="#800000"/>
<line x1="465" y1="193.5" x2="469" y2="193.5" stroke="#800000"/>
<line x1="471.5" y1="172" x2="471.5" y2="192" stroke="#006400"/>
<rect x="469.5" y="184.5" width="3" height="5" rx="0.6" fill="#00ff00" stroke="#006400" shape-rendering="geometricPrecision"/>
<line x1="475.5" y1="176" x2="475.5" y2="195" stroke="#800000"/>
<rect x="473.5" y="176.5" width="3" height="13" rx="0.6" fill="#ff0000" stroke="#800000" shape-rendering="geometricPrecision"/>
<line x1="479.5" y1="174" x2="479.5" y2="187" stroke="#006400"/>
<rect x="477.5" y="177.5" width="3" height="5" rx="0.6" fill="#00ff00" stroke="#006400" shape-rendering="geometricPrecision"/>
<line x1="483.5" y1="161" x2="483.5" y2="184" stroke="#006400"/>
<rect x="481.5" y="168.5" width="3" height="12" rx="0.6" fill="#00ff00" stroke="#006400" shape-rendering="geometricPrecision"/>
<line x1="487.5" y1="155" x2="487.5" y2="174" stroke="#006400"/>
<rect x="485.5" y="158.5" width="3" height="7" rx="0.6" fill="#00ff00" stroke="#006400" shape-rendering="geometricPrecision"/>
<line x1="491.5" y1="127" x2="491.5" y2="159" stroke="#006400"/>
<rect x="489.5" y="137.5" width="3" height="21" rx="0.6" fill="#00ff00" stroke="#006400" shape-rendering="geometricPrecision"/>
<line x1="495.5" y1="130" x2="495.5" y2="141" stroke="#006400"/>
<line x1="493" y1="136.5" x2="497" y2="136.5" stroke="#006400"/>
<line x1="499.5" y1="123" x2="499.5" y2="149" stroke="#800000"/>
<rect x="497.5" y="136.5" width="3" height="8" rx="0.6" fill="#ff0000" stroke="#800000" shape-rendering="geometricPrecision"/>
<line x1="503.5" y1="138" x2="503.5" y2="152" stroke="#800000"/>
<rect x="501.5" y="147.5" width="3" height="3" rx="0.6" fill="#ff0000" stroke="#800000" shape-rendering="geometricPrecision"/>
<line x1="507.5" y1="141" x2="507.5" y2="161" stroke="#800000"/>
<rect x="505.5" y="147.5" width="3" height="10" rx="0.6" fill="#ff0000" stroke="#800000" shape-rendering="geometricPrecision"/>
<line x1="511.5" y1="143" x2="511.5" y2="161" stroke="#006400"/>
<rect x="509.5" y="149.5" width="3" height="8" rx="0.6" fill="#00ff00" stroke="#006400" shape-rendering="geometricPrecision"/>
<line x1="515.5" y1="112" x2="515.5" y2="146" stroke="#006400"/>
<rect x="513.5" y="126.5" width="3" height="18" rx="0.6" fill="#00ff00" stroke="#006400" shape-rendering="geometricPrecision"/>
<line x1="519.5" y1="102" x2="519.5" y2="127" stroke="#006400"/>
<rect x="517.5" y="113.5" width="3" height="12" rx="0.6" fill="#00ff00" stroke="#006400" shape-rendering="geometricPrecision"/>
<line x1="523.5" y1="101" x2="523.5" y2="120" stroke="#006400"/>
<line x1="521" y1="111.5" x2="525" y2="111.5" stroke="#006400"/>
<line x1="527.5" y1="76" x2="527.5" y2="108" stroke="#006400"/>
<rect x="525.5" y="84.5" width="3" height="21" rx="0.6" fill="#00ff00" stroke="#006400" shape-rendering="geometricPrecision"/>
<line x1="531.5" y1="75" x2="531.5" y2="115" stroke="#800000"/>
<rect x="529.5" y="76.5" width="3" height="24" rx="0.6" fill="#ff0000" stroke="#800000" shape-rendering="geometricPrecision"/>
<line x1="535.5" y1="97" x2="535.5" y2="110" stroke="#800000"/>
<rect x="533.5" y="104.5" width="3" height="3" rx="0.6" fill="#ff0000" stroke="#800000" shape-rendering="geometricPrecision"/>
<line x1="539.5" y1="98" x2="539.5" y2="122" stroke="#800000"/>
<rect x="537.5" y="105.5" width="3" height="15" rx="0.6" fill="#ff0000" stroke="#800000" shape-rendering="geometricPrecision"/>
<line x1="543.5" y1="114" x2="543.5" y2="136" stroke="#800000"/>
<rect x="541.5" y="120.5" width="3" height="13" rx="0.6" fill="#ff0000" stroke="#800000" shape-rendering="geometricPrecision"/>
<line x1="547.5" y1="121" x2="547.5" y2="139" stroke="#006400"/>
<rect x="545.5" y="130.5" width="3" height="4" rx="0.6" fill="#00ff00" stroke="#006400" shape-rendering="geometricPrecision"/>
<line x1="551.5" y1="129" x2="551.5" y2="147" stroke="#800000"/>
<rect x="549.5" y="135.5" width="3" height="3" rx="0.6" fill="#ff0000" stroke="#800000" shape-rendering="geometricPrecision"/>
<line x1="555.5" y1="133" x2="555.5" y2="158" stroke="#800000"/>
<rect x="553.5" y="139.5" width="3" height="9" rx="0.6" fill="#ff0000" stroke="#800000" shape-rendering="geometricPrecision"/>
<line x1="559.5" y1="133" x2="559.5" y2="151" stroke="#006400"/>
<rect x="557.5" y="137.5" width="3" height="11" rx="0.6" fill="#00ff00" stroke="#006400" shape-rendering="geometricPrecision"/>
<line x1="563.5" y1="120" x2="563.5" y2="137" stroke="#800000"/>
<rect x="561.5" y="124.5" width="3" height="8" rx="0.6" fill="#ff0000" stroke="#800000" shape-rendering="geometricPrecision"/>
<line x1="567.5" y1="116" x2="567.5" y2="144" stroke="#006400"/>
<line x1="565" y1="130.5" x2="569" y2="130.5" stroke="#006400"/>
<line x1="571.5" y1="117" x2="571.5" y2="144" stroke="#800000"/>
<rect x="569.5" y="122.5" width="3" height="11" rx="0.6" fill="#ff0000" stroke="#800000" shape-rendering="geometricPrecision"/>
<line x1="575.5" y1="79" x2="575.5" y2="127" stroke="#800000"/>
<line x1="573" y1="104.5" x2="577" y2="104.5" stroke="#800000"/>
<line x1="579.5" y1="107" x2="579.5" y2="142" stroke="#006400"/>
<rect x="577.5" y="113.5" width="3" height="11" rx="0.6" fill="#00ff00" stroke="#006400" shape-rendering="geometricPrecision"/>
<line x1="583.5" y1="110" x2="583.5" y2="143" stroke="#800000"/>
<rect x="581.5" y="112.5" width="3" height="25" rx="0.6" fill="#ff0000" stroke="#800000" shape-rendering="geometricPrecision"/>
<line x1="587.5" y1="123" x2="587.5" y2="142" stroke="#006400"/>
<rect x="585.5" y="126.5" width="3" height="12" rx="0.6" fill="#00ff00" stroke="#006400" shape-rendering="geometricPrecision"/>
<line x1="591.5" y1="108" x2="591.5" y2="127" stroke="#006400"/>
<rect x="589.5" y="111.5" width="3" height="15" rx="0.6" fill="#00ff00" stroke="#006400" shape-rendering="geometricPrecision"/>
<line x1="595.5" y1="98" x2="595.5" y2="113" stroke="#006400"/>
<line x1="593" y1="111.5" x2="597" y2="111.5" stroke="#006400"/>
<line x1="599.5" y1="84" x2="599.5" y2="113" stroke="#006400"/>
<rect x="597.5" y="89.5" width="3" height="20" rx="0.6" fill="#00ff00" stroke="#006400" shape-rendering="geometricPrecision"/>
<line x1="603.5" y1="86" x2="603.5" y2="124" stroke="#800000"/>
<rect x="601.5" y="88.5" width="3" height="29" rx="0.6" fill="#ff0000" stroke="#800000" shape-rendering="geometricPrecision"/>
<line x1="607.5" y1="105" x2="607.5" y2="136" stroke="#006400"/>
<rect x="605.5" y="108.5" width="3" height="16" rx="0.6" fill="#00ff00" stroke="#006400" shape-rendering="geometricPrecision"/>
<line x1="611.5" y1="98" x2="611.5" y2="123" stroke="#800000"/>
<rect x="609.5" y="107.5" width="3" height="10" rx="0.6" fill="#ff0000" stroke="#800000" shape-rendering="geometricPrecision"/>
<line x1="615.5" y1="105" x2="615.5" y2="127" stroke="#006400"/>
<line x1="613" y1="120.5" x2="617" y2="120.5" stroke="#006400"/>
<line x1="619.5" y1="107" x2="619.5" y2="130" stroke="#800000"/>
<line x1="617" y1="118.5" x2="621" y2="118.5" stroke="#800000"/>
<line x1="623.5" y1="111" x2="623.5" y2="126" stroke="#006400"/>
<rect x="621.5" y="120.5" width="3" height="3" rx="0.6" fill="#00ff00" stroke="#006400" shape-rendering="geometricPrecision"/>
<line x1="627.5" y1="118" x2="627.5" y2="151" stroke="#800000"/>
<rect x="625.5" y="118.5" width="3" height="28" rx="0.6" fill="#ff0000" stroke="#800000" shape-rendering="geometricPrecision"/>
<rect x="631" y="141" width="32" height="12" fill="#ffe800"/>
<text x="633.3" y="150.4" font-size="9.3" font-weight="bold" fill="#000" text-anchor="start">2.0330</text>
<line x1="36" y1="267.5" x2="296" y2="267.5" stroke="#c8c8c8" stroke-dasharray="3 3"/>
<line x1="36" y1="309.5" x2="296" y2="309.5" stroke="#c8c8c8" stroke-dasharray="3 3"/>
<line x1="36" y1="351.5" x2="296" y2="351.5" stroke="#c8c8c8" stroke-dasharray="3 3"/>
<line x1="36" y1="392.5" x2="296" y2="392.5" stroke="#c8c8c8" stroke-dasharray="3 3"/>
<line x1="74.5" y1="259" x2="74.5" y2="410" stroke="#c8c8c8" stroke-dasharray="3 3"/>
<line x1="158.5" y1="259" x2="158.5" y2="410" stroke="#c8c8c8" stroke-dasharray="3 3"/>
<line x1="242.5" y1="259" x2="242.5" y2="410" stroke="#c8c8c8" stroke-dasharray="3 3"/>
<rect x="36" y="396" width="4" height="14" fill="#a8dca8"/>
<rect x="40" y="396" width="4" height="14" fill="#a8dca8"/>
<rect x="44" y="396" width="4" height="14" fill="#a8dca8"/>
<rect x="48" y="396" width="4" height="14" fill="#a8dca8"/>
<rect x="52" y="390" width="4" height="20" fill="#ffbaba"/>
<rect x="56" y="387" width="4" height="23" fill="#ffbaba"/>
<rect x="60" y="393" width="4" height="17" fill="#a8dca8"/>
<rect x="64" y="394" width="4" height="16" fill="#ffbaba"/>
<rect x="68" y="398" width="4" height="12" fill="#a8dca8"/>
<rect x="72" y="394" width="4" height="16" fill="#ffbaba"/>
<rect x="76" y="396" width="4" height="14" fill="#ffbaba"/>
<rect x="80" y="397" width="4" height="13" fill="#ffbaba"/>
<rect x="84" y="396" width="4" height="14" fill="#a8dca8"/>
<rect x="88" y="396" width="4" height="14" fill="#ffbaba"/>
<rect x="92" y="391" width="4" height="19" fill="#ffbaba"/>
<rect x="96" y="392" width="4" height="18" fill="#ffbaba"/>
<rect x="100" y="389" width="4" height="21" fill="#a8dca8"/>
<rect x="104" y="385" width="4" height="25" fill="#a8dca8"/>
<rect x="108" y="394" width="4" height="16" fill="#ffbaba"/>
<rect x="112" y="397" width="4" height="13" fill="#a8dca8"/>
<rect x="116" y="393" width="4" height="17" fill="#a8dca8"/>
<rect x="120" y="395" width="4" height="15" fill="#a8dca8"/>
<rect x="124" y="395" width="4" height="15" fill="#a8dca8"/>
<rect x="128" y="393" width="4" height="17" fill="#a8dca8"/>
<rect x="132" y="401" width="4" height="9" fill="#ffbaba"/>
<rect x="136" y="405" width="4" height="5" fill="#a8dca8"/>
<rect x="140" y="398" width="4" height="12" fill="#ffbaba"/>
<rect x="144" y="396" width="4" height="14" fill="#a8dca8"/>
<rect x="148" y="382" width="4" height="28" fill="#a8dca8"/>
<rect x="152" y="396" width="4" height="14" fill="#ffbaba"/>
<rect x="156" y="398" width="4" height="12" fill="#a8dca8"/>
<rect x="160" y="396" width="4" height="14" fill="#ffbaba"/>
<rect x="164" y="393" width="4" height="17" fill="#a8dca8"/>
<rect x="168" y="396" width="4" height="14" fill="#ffbaba"/>
<rect x="172" y="396" width="4" height="14" fill="#a8dca8"/>
<rect x="176" y="399" width="4" height="11" fill="#a8dca8"/>
<rect x="180" y="393" width="4" height="17" fill="#a8dca8"/>
<rect x="184" y="395" width="4" height="15" fill="#ffbaba"/>
<rect x="188" y="397" width="4" height="13" fill="#a8dca8"/>
<rect x="192" y="397" width="4" height="13" fill="#a8dca8"/>
<rect x="196" y="396" width="4" height="14" fill="#a8dca8"/>
<rect x="200" y="395" width="4" height="15" fill="#ffbaba"/>
<rect x="204" y="394" width="4" height="16" fill="#ffbaba"/>
<rect x="208" y="400" width="4" height="10" fill="#a8dca8"/>
<rect x="212" y="401" width="4" height="9" fill="#ffbaba"/>
<rect x="216" y="403" width="4" height="7" fill="#a8dca8"/>
<rect x="220" y="396" width="4" height="14" fill="#ffbaba"/>
<rect x="224" y="395" width="4" height="15" fill="#ffbaba"/>
<rect x="228" y="397" width="4" height="13" fill="#a8dca8"/>
<rect x="232" y="395" width="4" height="15" fill="#ffbaba"/>
<rect x="236" y="400" width="4" height="10" fill="#ffbaba"/>
<rect x="240" y="389" width="4" height="21" fill="#a8dca8"/>
<rect x="244" y="396" width="4" height="14" fill="#ffbaba"/>
<rect x="248" y="397" width="4" height="13" fill="#a8dca8"/>
<rect x="252" y="397" width="4" height="13" fill="#a8dca8"/>
<rect x="256" y="396" width="4" height="14" fill="#ffbaba"/>
<rect x="260" y="395" width="4" height="15" fill="#a8dca8"/>
<rect x="264" y="394" width="4" height="16" fill="#a8dca8"/>
<rect x="268" y="395" width="4" height="15" fill="#a8dca8"/>
<rect x="272" y="387" width="4" height="23" fill="#a8dca8"/>
<rect x="276" y="395" width="4" height="15" fill="#a8dca8"/>
<rect x="280" y="387" width="4" height="23" fill="#a8dca8"/>
<rect x="284" y="385" width="4" height="25" fill="#a8dca8"/>
<rect x="288" y="394" width="4" height="16" fill="#ffbaba"/>
<rect x="292" y="399" width="4" height="11" fill="#a8dca8"/>
<text transform="translate(27,333) rotate(-90)" font-size="12.5" font-weight="bold" fill="#dcdcdc" textLength="32.5" lengthAdjust="spacingAndGlyphs">DAILY</text>
<text x="138.9" y="255" font-size="9.5" font-weight="normal" fill="#707070" text-anchor="start" textLength="38.5" lengthAdjust="spacingAndGlyphs">12:00 AM</text>
<text x="10" y="265" font-size="21" font-weight="bold" fill="#7f7f7f" text-anchor="start" textLength="119.2" lengthAdjust="spacingAndGlyphs">Natural Gas</text>
<text x="266" y="255.5" font-size="10.5" font-weight="bold" fill="#22962a" text-anchor="end">+0.2100 (5.19%)</text>
<text x="276.3" y="253.5" font-size="9.5" font-weight="normal" fill="#7db8ea" text-anchor="start">&#169;</text>
<text x="285.8" y="253.5" font-size="9" font-weight="bold" fill="#7db8ea" text-anchor="start" textLength="42" lengthAdjust="spacingAndGlyphs">finviz.com</text>
<text x="300" y="269.8" font-size="9.6" font-weight="normal" fill="#6e6e6e" text-anchor="start" textLength="28.4" lengthAdjust="spacingAndGlyphs">4.5000</text>
<text x="300" y="311.8" font-size="9.6" font-weight="normal" fill="#6e6e6e" text-anchor="start" textLength="28.4" lengthAdjust="spacingAndGlyphs">4.0000</text>
<text x="300" y="353.8" font-size="9.6" font-weight="normal" fill="#6e6e6e" text-anchor="start" textLength="28.4" lengthAdjust="spacingAndGlyphs">3.5000</text>
<text x="300" y="394.8" font-size="9.6" font-weight="normal" fill="#6e6e6e" text-anchor="start" textLength="28.4" lengthAdjust="spacingAndGlyphs">3.0000</text>
<text x="74.3" y="419.6" font-size="10" font-weight="normal" fill="#808080" text-anchor="middle">Dec</text>
<text x="158.3" y="419.6" font-size="10" font-weight="normal" fill="#808080" text-anchor="middle" textLength="21" lengthAdjust="spacingAndGlyphs">2025</text>
<text x="242.3" y="419.6" font-size="10" font-weight="normal" fill="#808080" text-anchor="middle">Feb</text>
<text x="31" y="381.90000000000003" font-size="9.2" font-weight="normal" fill="#777777" text-anchor="end">400k</text>
<text x="31" y="396.90000000000003" font-size="9.2" font-weight="normal" fill="#777777" text-anchor="end">200k</text>
<line x1="38.5" y1="394" x2="38.5" y2="406" stroke="#006400"/>
<rect x="36.5" y="395.5" width="3" height="3" rx="0.6" fill="#00ff00" stroke="#006400" shape-rendering="geometricPrecision"/>
<line x1="42.5" y1="388" x2="42.5" y2="400" stroke="#006400"/>
<rect x="40.5" y="392.5" width="3" height="3" rx="0.6" fill="#00ff00" stroke="#006400" shape-rendering="geometricPrecision"/>
<line x1="46.5" y1="373" x2="46.5" y2="397" stroke="#006400"/>
<rect x="44.5" y="376.5" width="3" height="17" rx="0.6" fill="#00ff00" stroke="#006400" shape-rendering="geometricPrecision"/>
<line x1="50.5" y1="355" x2="50.5" y2="376" stroke="#006400"/>
<rect x="48.5" y="364.5" width="3" height="9" rx="0.6" fill="#00ff00" stroke="#006400" shape-rendering="geometricPrecision"/>
<line x1="54.5" y1="339" x2="54.5" y2="372" stroke="#800000"/>
<rect x="52.5" y="348.5" width="3" height="19" rx="0.6" fill="#ff0000" stroke="#800000" shape-rendering="geometricPrecision"/>
<line x1="58.5" y1="345" x2="58.5" y2="359" stroke="#800000"/>
<line x1="56" y1="353.5" x2="60" y2="353.5" stroke="#800000"/>
<line x1="62.5" y1="348" x2="62.5" y2="360" stroke="#006400"/>
<rect x="60.5" y="353.5" width="3" height="3" rx="0.6" fill="#00ff00" stroke="#006400" shape-rendering="geometricPrecision"/>
<line x1="66.5" y1="353" x2="66.5" y2="377" stroke="#800000"/>
<rect x="64.5" y="353.5" width="3" height="21" rx="0.6" fill="#ff0000" stroke="#800000" shape-rendering="geometricPrecision"/>
<line x1="70.5" y1="360" x2="70.5" y2="378" stroke="#006400"/>
<rect x="68.5" y="362.5" width="3" height="13" rx="0.6" fill="#00ff00" stroke="#006400" shape-rendering="geometricPrecision"/>
<line x1="74.5" y1="369" x2="74.5" y2="380" stroke="#800000"/>
<line x1="72" y1="374.5" x2="76" y2="374.5" stroke="#800000"/>
<line x1="78.5" y1="374" x2="78.5" y2="390" stroke="#800000"/>
<rect x="76.5" y="374.5" width="3" height="14" rx="0.6" fill="#ff0000" stroke="#800000" shape-rendering="geometricPrecision"/>
<line x1="82.5" y1="385" x2="82.5" y2="394" stroke="#800000"/>
<line x1="80" y1="387.5" x2="84" y2="387.5" stroke="#800000"/>
<line x1="86.5" y1="379" x2="86.5" y2="388" stroke="#006400"/>
<line x1="84" y1="386.5" x2="88" y2="386.5" stroke="#006400"/>
<line x1="90.5" y1="383" x2="90.5" y2="392" stroke="#800000"/>
<line x1="88" y1="385.5" x2="92" y2="385.5" stroke="#800000"/>
<line x1="94.5" y1="365" x2="94.5" y2="381" stroke="#800000"/>
<rect x="92.5" y="371.5" width="3" height="5" rx="0.6" fill="#ff0000" stroke="#800000" shape-rendering="geometricPrecision"/>
<line x1="98.5" y1="376" x2="98.5" y2="387" stroke="#800000"/>
<line x1="96" y1="377.5" x2="100" y2="377.5" stroke="#800000"/>
<line x1="102.5" y1="359" x2="102.5" y2="377" stroke="#006400"/>
<rect x="100.5" y="361.5" width="3" height="15" rx="0.6" fill="#00ff00" stroke="#006400" shape-rendering="geometricPrecision"/>
<line x1="106.5" y1="346" x2="106.5" y2="369" stroke="#006400"/>
<rect x="104.5" y="354.5" width="3" height="7" rx="0.6" fill="#00ff00" stroke="#006400" shape-rendering="geometricPrecision"/>
<line x1="110.5" y1="352" x2="110.5" y2="370" stroke="#800000"/>
<rect x="108.5" y="354.5" width="3" height="15" rx="0.6" fill="#ff0000" stroke="#800000" shape-rendering="geometricPrecision"/>
<line x1="114.5" y1="371" x2="114.5" y2="380" stroke="#006400"/>
<line x1="112" y1="374.5" x2="116" y2="374.5" stroke="#006400"/>
<line x1="118.5" y1="359" x2="118.5" y2="385" stroke="#006400"/>
<rect x="116.5" y="367.5" width="3" height="5" rx="0.6" fill="#00ff00" stroke="#006400" shape-rendering="geometricPrecision"/>
<line x1="122.5" y1="356" x2="122.5" y2="366" stroke="#006400"/>
<line x1="120" y1="361.5" x2="124" y2="361.5" stroke="#006400"/>
<line x1="126.5" y1="338" x2="126.5" y2="360" stroke="#006400"/>
<rect x="124.5" y="344.5" width="3" height="14" rx="0.6" fill="#00ff00" stroke="#006400" shape-rendering="geometricPrecision"/>
<line x1="130.5" y1="323" x2="130.5" y2="346" stroke="#006400"/>
<rect x="128.5" y="330.5" width="3" height="9" rx="0.6" fill="#00ff00" stroke="#006400" shape-rendering="geometricPrecision"/>
<line x1="134.5" y1="314" x2="134.5" y2="344" stroke="#800000"/>
<rect x="132.5" y="320.5" width="3" height="17" rx="0.6" fill="#ff0000" stroke="#800000" shape-rendering="geometricPrecision"/>
<line x1="138.5" y1="312" x2="138.5" y2="337" stroke="#006400"/>
<rect x="136.5" y="313.5" width="3" height="20" rx="0.6" fill="#00ff00" stroke="#006400" shape-rendering="geometricPrecision"/>
<line x1="142.5" y1="348" x2="142.5" y2="371" stroke="#800000"/>
<rect x="140.5" y="348.5" width="3" height="17" rx="0.6" fill="#ff0000" stroke="#800000" shape-rendering="geometricPrecision"/>
<line x1="146.5" y1="354" x2="146.5" y2="368" stroke="#006400"/>
<rect x="144.5" y="360.5" width="3" height="5" rx="0.6" fill="#00ff00" stroke="#006400" shape-rendering="geometricPrecision"/>
<line x1="150.5" y1="292" x2="150.5" y2="338" stroke="#006400"/>
<rect x="148.5" y="314.5" width="3" height="23" rx="0.6" fill="#00ff00" stroke="#006400" shape-rendering="geometricPrecision"/>
<line x1="154.5" y1="308" x2="154.5" y2="344" stroke="#800000"/>
<rect x="152.5" y="316.5" width="3" height="23" rx="0.6" fill="#ff0000" stroke="#800000" shape-rendering="geometricPrecision"/>
<line x1="158.5" y1="326" x2="158.5" y2="347" stroke="#006400"/>
<line x1="156" y1="337.5" x2="160" y2="337.5" stroke="#006400"/>
<line x1="162.5" y1="335" x2="162.5" y2="365" stroke="#800000"/>
<rect x="160.5" y="337.5" width="3" height="25" rx="0.6" fill="#ff0000" stroke="#800000" shape-rendering="geometricPrecision"/>
<line x1="166.5" y1="332" x2="166.5" y2="351" stroke="#006400"/>
<rect x="164.5" y="336.5" width="3" height="9" rx="0.6" fill="#00ff00" stroke="#006400" shape-rendering="geometricPrecision"/>
<line x1="170.5" y1="331" x2="170.5" y2="357" stroke="#800000"/>
<rect x="168.5" y="334.5" width="3" height="20" rx="0.6" fill="#ff0000" stroke="#800000" shape-rendering="geometricPrecision"/>
<line x1="174.5" y1="334" x2="174.5" y2="357" stroke="#006400"/>
<rect x="172.5" y="338.5" width="3" height="16" rx="0.6" fill="#00ff00" stroke="#006400" shape-rendering="geometricPrecision"/>
<line x1="178.5" y1="323" x2="178.5" y2="346" stroke="#006400"/>
<line x1="176" y1="334.5" x2="180" y2="334.5" stroke="#006400"/>
<line x1="182.5" y1="307" x2="182.5" y2="335" stroke="#006400"/>
<rect x="180.5" y="310.5" width="3" height="22" rx="0.6" fill="#00ff00" stroke="#006400" shape-rendering="geometricPrecision"/>
<line x1="186.5" y1="278" x2="186.5" y2="322" stroke="#800000"/>
<rect x="184.5" y="280.5" width="3" height="33" rx="0.6" fill="#ff0000" stroke="#800000" shape-rendering="geometricPrecision"/>
<line x1="190.5" y1="304" x2="190.5" y2="331" stroke="#006400"/>
<rect x="188.5" y="312.5" width="3" height="3" rx="0.6" fill="#00ff00" stroke="#006400" shape-rendering="geometricPrecision"/>
<line x1="194.5" y1="297" x2="194.5" y2="321" stroke="#006400"/>
<rect x="192.5" y="302.5" width="3" height="10" rx="0.6" fill="#00ff00" stroke="#006400" shape-rendering="geometricPrecision"/>
<line x1="198.5" y1="282" x2="198.5" y2="306" stroke="#006400"/>
<rect x="196.5" y="287.5" width="3" height="10" rx="0.6" fill="#00ff00" stroke="#006400" shape-rendering="geometricPrecision"/>
<line x1="202.5" y1="283" x2="202.5" y2="316" stroke="#800000"/>
<rect x="200.5" y="286.5" width="3" height="26" rx="0.6" fill="#ff0000" stroke="#800000" shape-rendering="geometricPrecision"/>
<line x1="206.5" y1="316" x2="206.5" y2="332" stroke="#800000"/>
<rect x="204.5" y="324.5" width="3" height="4" rx="0.6" fill="#ff0000" stroke="#800000" shape-rendering="geometricPrecision"/>
<line x1="210.5" y1="308" x2="210.5" y2="333" stroke="#006400"/>
<rect x="208.5" y="312.5" width="3" height="14" rx="0.6" fill="#00ff00" stroke="#006400" shape-rendering="geometricPrecision"/>
<line x1="214.5" y1="305" x2="214.5" y2="321" stroke="#800000"/>
<rect x="212.5" y="309.5" width="3" height="4" rx="0.6" fill="#ff0000" stroke="#800000" shape-rendering="geometricPrecision"/>
<line x1="218.5" y1="305" x2="218.5" y2="325" stroke="#006400"/>
<rect x="216.5" y="307.5" width="3" height="7" rx="0.6" fill="#00ff00" stroke="#006400" shape-rendering="geometricPrecision"/>
<line x1="222.5" y1="364" x2="222.5" y2="378" stroke="#800000"/>
<rect x="220.5" y="368.5" width="3" height="3" rx="0.6" fill="#ff0000" stroke="#800000" shape-rendering="geometricPrecision"/>
<line x1="226.5" y1="371" x2="226.5" y2="386" stroke="#800000"/>
<rect x="224.5" y="371.5" width="3" height="10" rx="0.6" fill="#ff0000" stroke="#800000" shape-rendering="geometricPrecision"/>
<line x1="230.5" y1="376" x2="230.5" y2="387" stroke="#006400"/>
<rect x="228.5" y="378.5" width="3" height="6" rx="0.6" fill="#00ff00" stroke="#006400" shape-rendering="geometricPrecision"/>
<line x1="234.5" y1="372" x2="234.5" y2="389" stroke="#800000"/>
<rect x="232.5" y="378.5" width="3" height="9" rx="0.6" fill="#ff0000" stroke="#800000" shape-rendering="geometricPrecision"/>
<line x1="238.5" y1="382" x2="238.5" y2="393" stroke="#800000"/>
<rect x="236.5" y="386.5" width="3" height="3" rx="0.6" fill="#ff0000" stroke="#800000" shape-rendering="geometricPrecision"/>
<line x1="242.5" y1="358" x2="242.5" y2="373" stroke="#006400"/>
<rect x="240.5" y="363.5" width="3" height="9" rx="0.6" fill="#00ff00" stroke="#006400" shape-rendering="geometricPrecision"/>
<line x1="246.5" y1="362" x2="246.5" y2="378" stroke="#800000"/>
<rect x="244.5" y="366.5" width="3" height="4" rx="0.6" fill="#ff0000" stroke="#800000" shape-rendering="geometricPrecision"/>
<line x1="250.5" y1="361" x2="250.5" y2="376" stroke="#006400"/>
<rect x="248.5" y="362.5" width="3" height="10" rx="0.6" fill="#00ff00" stroke="#006400" shape-rendering="geometricPrecision"/>
<line x1="254.5" y1="356" x2="254.5" y2="367" stroke="#006400"/>
<rect x="252.5" y="358.5" width="3" height="4" rx="0.6" fill="#00ff00" stroke="#006400" shape-rendering="geometricPrecision"/>
<line x1="258.5" y1="356" x2="258.5" y2="368" stroke="#800000"/>
<rect x="256.5" y="361.5" width="3" height="5" rx="0.6" fill="#ff0000" stroke="#800000" shape-rendering="geometricPrecision"/>
<line x1="262.5" y1="352" x2="262.5" y2="363" stroke="#006400"/>
<rect x="260.5" y="355.5" width="3" height="3" rx="0.6" fill="#00ff00" stroke="#006400" shape-rendering="geometricPrecision"/>
<line x1="266.5" y1="344" x2="266.5" y2="356" stroke="#006400"/>
<rect x="264.5" y="349.5" width="3" height="5" rx="0.6" fill="#00ff00" stroke="#006400" shape-rendering="geometricPrecision"/>
<line x1="270.5" y1="344" x2="270.5" y2="353" stroke="#006400"/>
<rect x="268.5" y="345.5" width="3" height="4" rx="0.6" fill="#00ff00" stroke="#006400" shape-rendering="geometricPrecision"/>
<line x1="274.5" y1="327" x2="274.5" y2="344" stroke="#006400"/>
<rect x="272.5" y="340.5" width="3" height="3" rx="0.6" fill="#00ff00" stroke="#006400" shape-rendering="geometricPrecision"/>
<line x1="278.5" y1="326" x2="278.5" y2="339" stroke="#006400"/>
<rect x="276.5" y="332.5" width="3" height="5" rx="0.6" fill="#00ff00" stroke="#006400" shape-rendering="geometricPrecision"/>
<line x1="282.5" y1="308" x2="282.5" y2="346" stroke="#006400"/>
<rect x="280.5" y="308.5" width="3" height="32" rx="0.6" fill="#00ff00" stroke="#006400" shape-rendering="geometricPrecision"/>
<line x1="286.5" y1="276" x2="286.5" y2="313" stroke="#006400"/>
<rect x="284.5" y="286.5" width="3" height="21" rx="0.6" fill="#00ff00" stroke="#006400" shape-rendering="geometricPrecision"/>
<line x1="290.5" y1="269" x2="290.5" y2="306" stroke="#800000"/>
<rect x="288.5" y="277.5" width="3" height="18" rx="0.6" fill="#ff0000" stroke="#800000" shape-rendering="geometricPrecision"/>
<line x1="294.5" y1="272" x2="294.5" y2="297" stroke="#006400"/>
<rect x="292.5" y="288.5" width="3" height="5" rx="0.6" fill="#00ff00" stroke="#006400" shape-rendering="geometricPrecision"/>
<rect x="298" y="282" width="32" height="12" fill="#ffe800"/>
<text x="300.3" y="291.4" font-size="9.3" font-weight="bold" fill="#000" text-anchor="start">4.2570</text>
<line x1="369" y1="259.5" x2="629" y2="259.5" stroke="#c8c8c8" stroke-dasharray="3 3"/>
<line x1="369" y1="288.5" x2="629" y2="288.5" stroke="#c8c8c8" stroke-dasharray="3 3"/>
<line x1="369" y1="317.5" x2="629" y2="317.5" stroke="#c8c8c8" stroke-dasharray="3 3"/>
<line x1="369" y1="346.5" x2="629" y2="346.5" stroke="#c8c8c8" stroke-dasharray="3 3"/>
<line x1="369" y1="374.5" x2="629" y2="374.5" stroke="#c8c8c8" stroke-dasharray="3 3"/>
<line x1="369" y1="403.5" x2="629" y2="403.5" stroke="#c8c8c8" stroke-dasharray="3 3"/>
<line x1="407.5" y1="259" x2="407.5" y2="410" stroke="#c8c8c8" stroke-dasharray="3 3"/>
<line x1="491.5" y1="259" x2="491.5" y2="410" stroke="#c8c8c8" stroke-dasharray="3 3"/>
<line x1="575.5" y1="259" x2="575.5" y2="410" stroke="#c8c8c8" stroke-dasharray="3 3"/>
<rect x="369" y="409" width="4" height="1" fill="#a8dca8"/>
<rect x="405" y="387" width="4" height="23" fill="#a8dca8"/>
<rect x="409" y="399" width="4" height="11" fill="#a8dca8"/>
<rect x="413" y="397" width="4" height="13" fill="#a8dca8"/>
<rect x="417" y="401" width="4" height="9" fill="#a8dca8"/>
<rect x="421" y="386" width="4" height="24" fill="#a8dca8"/>
<rect x="425" y="405" width="4" height="5" fill="#a8dca8"/>
<rect x="429" y="403" width="4" height="7" fill="#a8dca8"/>
<rect x="433" y="405" width="4" height="5" fill="#a8dca8"/>
<rect x="437" y="407" width="4" height="3" fill="#a8dca8"/>
<rect x="441" y="407" width="4" height="3" fill="#a8dca8"/>
<rect x="445" y="403" width="4" height="7" fill="#a8dca8"/>
<rect x="449" y="402" width="4" height="8" fill="#a8dca8"/>
<rect x="461" y="409" width="4" height="1" fill="#a8dca8"/>
<rect x="465" y="402" width="4" height="8" fill="#a8dca8"/>
<rect x="489" y="401" width="4" height="9" fill="#a8dca8"/>
<rect x="493" y="387" width="4" height="23" fill="#ffbaba"/>
<rect x="497" y="396" width="4" height="14" fill="#a8dca8"/>
<rect x="501" y="402" width="4" height="8" fill="#a8dca8"/>
<rect x="505" y="388" width="4" height="22" fill="#a8dca8"/>
<rect x="509" y="402" width="4" height="8" fill="#a8dca8"/>
<rect x="513" y="409" width="4" height="1" fill="#a8dca8"/>
<rect x="517" y="406" width="4" height="4" fill="#a8dca8"/>
<rect x="521" y="408" width="4" height="2" fill="#a8dca8"/>
<rect x="525" y="408" width="4" height="2" fill="#a8dca8"/>
<rect x="533" y="409" width="4" height="1" fill="#a8dca8"/>
<rect x="545" y="407" width="4" height="3" fill="#a8dca8"/>
<rect x="549" y="409" width="4" height="1" fill="#a8dca8"/>
<rect x="573" y="386" width="4" height="24" fill="#a8dca8"/>
<rect x="577" y="392" width="4" height="18" fill="#a8dca8"/>
<rect x="581" y="391" width="4" height="19" fill="#a8dca8"/>
<rect x="585" y="409" width="4" height="1" fill="#a8dca8"/>
<rect x="589" y="403" width="4" height="7" fill="#a8dca8"/>
<rect x="593" y="407" width="4" height="3" fill="#a8dca8"/>
<rect x="597" y="407" width="4" height="3" fill="#a8dca8"/>
<rect x="609" y="409" width="4" height="1" fill="#a8dca8"/>
<rect x="613" y="409" width="4" height="1" fill="#a8dca8"/>
<rect x="617" y="409" width="4" height="1" fill="#a8dca8"/>
<rect x="621" y="408" width="4" height="2" fill="#a8dca8"/>
<text transform="translate(360,333) rotate(-90)" font-size="12.5" font-weight="bold" fill="#dcdcdc" textLength="32.5" lengthAdjust="spacingAndGlyphs">DAILY</text>
<text x="453.1" y="255" font-size="9.5" font-weight="normal" fill="#707070" text-anchor="start" textLength="38.5" lengthAdjust="spacingAndGlyphs">12:00 AM</text>
<text x="343" y="265" font-size="21" font-weight="bold" fill="#7f7f7f" text-anchor="start" textLength="78.3" lengthAdjust="spacingAndGlyphs">Ethanol</text>
<text x="599" y="255.5" font-size="10.5" font-weight="bold" fill="#cc0000" text-anchor="end">-0.0025 (0.14%)</text>
<text x="609.3" y="253.5" font-size="9.5" font-weight="normal" fill="#7db8ea" text-anchor="start">&#169;</text>
<text x="618.8" y="253.5" font-size="9" font-weight="bold" fill="#7db8ea" text-anchor="start" textLength="42" lengthAdjust="spacingAndGlyphs">finviz.com</text>
<text x="633" y="261.8" font-size="9.6" font-weight="normal" fill="#6e6e6e" text-anchor="start" textLength="28.4" lengthAdjust="spacingAndGlyphs">1.8000</text>
<text x="633" y="290.8" font-size="9.6" font-weight="normal" fill="#6e6e6e" text-anchor="start" textLength="28.4" lengthAdjust="spacingAndGlyphs">1.7500</text>
<text x="633" y="319.8" font-size="9.6" font-weight="normal" fill="#6e6e6e" text-anchor="start" textLength="28.4" lengthAdjust="spacingAndGlyphs">1.7000</text>
<text x="633" y="348.8" font-size="9.6" font-weight="normal" fill="#6e6e6e" text-anchor="start" textLength="28.4" lengthAdjust="spacingAndGlyphs">1.6500</text>
<text x="633" y="376.8" font-size="9.6" font-weight="normal" fill="#6e6e6e" text-anchor="start" textLength="28.4" lengthAdjust="spacingAndGlyphs">1.6000</text>
<text x="633" y="405.8" font-size="9.6" font-weight="normal" fill="#6e6e6e" text-anchor="start" textLength="28.4" lengthAdjust="spacingAndGlyphs">1.5500</text>
<text x="407.3" y="419.6" font-size="10" font-weight="normal" fill="#808080" text-anchor="middle">Dec</text>
<text x="491.3" y="419.6" font-size="10" font-weight="normal" fill="#808080" text-anchor="middle" textLength="21" lengthAdjust="spacingAndGlyphs">2025</text>
<text x="575.3" y="419.6" font-size="10" font-weight="normal" fill="#808080" text-anchor="middle">Feb</text>
<text x="364" y="393.90000000000003" font-size="9.2" font-weight="normal" fill="#777777" text-anchor="end">500</text>
<line x1="369" y1="346.5" x2="373" y2="346.5" stroke="#006400"/>
<line x1="373" y1="350.5" x2="377" y2="350.5" stroke="#006400"/>
<line x1="377" y1="354.5" x2="381" y2="354.5" stroke="#006400"/>
<line x1="381" y1="360.5" x2="385" y2="360.5" stroke="#006400"/>
<line x1="385" y1="363.5" x2="389" y2="363.5" stroke="#006400"/>
<line x1="389" y1="363.5" x2="393" y2="363.5" stroke="#006400"/>
<line x1="393" y1="363.5" x2="397" y2="363.5" stroke="#006400"/>
<line x1="397" y1="363.5" x2="401" y2="363.5" stroke="#006400"/>
<line x1="401" y1="359.5" x2="405" y2="359.5" stroke="#006400"/>
<line x1="405" y1="405.5" x2="409" y2="405.5" stroke="#006400"/>
<line x1="409" y1="393.5" x2="413" y2="393.5" stroke="#006400"/>
<line x1="413" y1="380.5" x2="417" y2="380.5" stroke="#006400"/>
<line x1="417" y1="374.5" x2="421" y2="374.5" stroke="#006400"/>
<line x1="421" y1="357.5" x2="425" y2="357.5" stroke="#006400"/>
<line x1="425" y1="374.5" x2="429" y2="374.5" stroke="#006400"/>
<line x1="429" y1="361.5" x2="433" y2="361.5" stroke="#006400"/>
<line x1="433" y1="366.5" x2="437" y2="366.5" stroke="#006400"/>
<line x1="437" y1="369.5" x2="441" y2="369.5" stroke="#006400"/>
<line x1="441" y1="363.5" x2="445" y2="363.5" stroke="#006400"/>
<line x1="445" y1="364.5" x2="449" y2="364.5" stroke="#006400"/>
<line x1="449" y1="369.5" x2="453" y2="369.5" stroke="#006400"/>
<line x1="453" y1="370.5" x2="457" y2="370.5" stroke="#006400"/>
<line x1="457" y1="367.5" x2="461" y2="367.5" stroke="#006400"/>
<line x1="461" y1="361.5" x2="465" y2="361.5" stroke="#006400"/>
<line x1="465" y1="360.5" x2="469" y2="360.5" stroke="#006400"/>
<line x1="469" y1="359.5" x2="473" y2="359.5" stroke="#006400"/>
<line x1="473" y1="359.5" x2="477" y2="359.5" stroke="#006400"/>
<line x1="477" y1="360.5" x2="481" y2="360.5" stroke="#006400"/>
<line x1="481" y1="360.5" x2="485" y2="360.5" stroke="#006400"/>
<line x1="485" y1="362.5" x2="489" y2="362.5" stroke="#006400"/>
<line x1="489" y1="330.5" x2="493" y2="330.5" stroke="#006400"/>
<line x1="497" y1="338.5" x2="501" y2="338.5" stroke="#006400"/>
<line x1="501" y1="350.5" x2="505" y2="350.5" stroke="#006400"/>
<line x1="505" y1="364.5" x2="509" y2="364.5" stroke="#006400"/>
<line x1="509" y1="364.5" x2="513" y2="364.5" stroke="#006400"/>
<line x1="513" y1="341.5" x2="517" y2="341.5" stroke="#006400"/>
<line x1="517" y1="328.5" x2="521" y2="328.5" stroke="#006400"/>
<line x1="521" y1="331.5" x2="525" y2="331.5" stroke="#006400"/>
<line x1="525" y1="325.5" x2="529" y2="325.5" stroke="#006400"/>
<line x1="529" y1="320.5" x2="533" y2="320.5" stroke="#006400"/>
<line x1="533" y1="320.5" x2="537" y2="320.5" stroke="#006400"/>
<line x1="537" y1="320.5" x2="541" y2="320.5" stroke="#006400"/>
<line x1="541" y1="320.5" x2="545" y2="320.5" stroke="#006400"/>
<line x1="545" y1="331.5" x2="549" y2="331.5" stroke="#006400"/>
<line x1="549" y1="331.5" x2="553" y2="331.5" stroke="#006400"/>
<line x1="553" y1="333.5" x2="557" y2="333.5" stroke="#006400"/>
<line x1="557" y1="333.5" x2="561" y2="333.5" stroke="#006400"/>
<line x1="561" y1="331.5" x2="565" y2="331.5" stroke="#006400"/>
<line x1="565" y1="331.5" x2="569" y2="331.5" stroke="#006400"/>
<line x1="569" y1="327.5" x2="573" y2="327.5" stroke="#006400"/>
<line x1="573" y1="288.5" x2="577" y2="288.5" stroke="#006400"/>
<line x1="577" y1="282.5" x2="581" y2="282.5" stroke="#006400"/>
<line x1="581" y1="294.5" x2="585" y2="294.5" stroke="#006400"/>
<line x1="585" y1="296.5" x2="589" y2="296.5" stroke="#006400"/>
<line x1="589" y1="295.5" x2="593" y2="295.5" stroke="#006400"/>
<line x1="593" y1="288.5" x2="597" y2="288.5" stroke="#006400"/>
<line x1="597" y1="292.5" x2="601" y2="292.5" stroke="#006400"/>
<line x1="601" y1="282.5" x2="605" y2="282.5" stroke="#006400"/>
<line x1="605" y1="275.5" x2="609" y2="275.5" stroke="#006400"/>
<line x1="609" y1="268.5" x2="613" y2="268.5" stroke="#006400"/>
<line x1="613" y1="263.5" x2="617" y2="263.5" stroke="#006400"/>
<line x1="617" y1="266.5" x2="621" y2="266.5" stroke="#006400"/>
<line x1="621" y1="268.5" x2="625" y2="268.5" stroke="#006400"/>
<line x1="625" y1="269.5" x2="629" y2="269.5" stroke="#006400"/>
<rect x="493.5" y="338.5" width="3" height="7" rx="0.8" fill="#ff0000" stroke="#800000" shape-rendering="geometricPrecision"/>
<rect x="631" y="263" width="32" height="12" fill="#ffe800"/>
<text x="633.3" y="272.4" font-size="9.3" font-weight="bold" fill="#000" text-anchor="start">1.7825</text>
</svg>
<div id="bot"></div>
</body></html>
